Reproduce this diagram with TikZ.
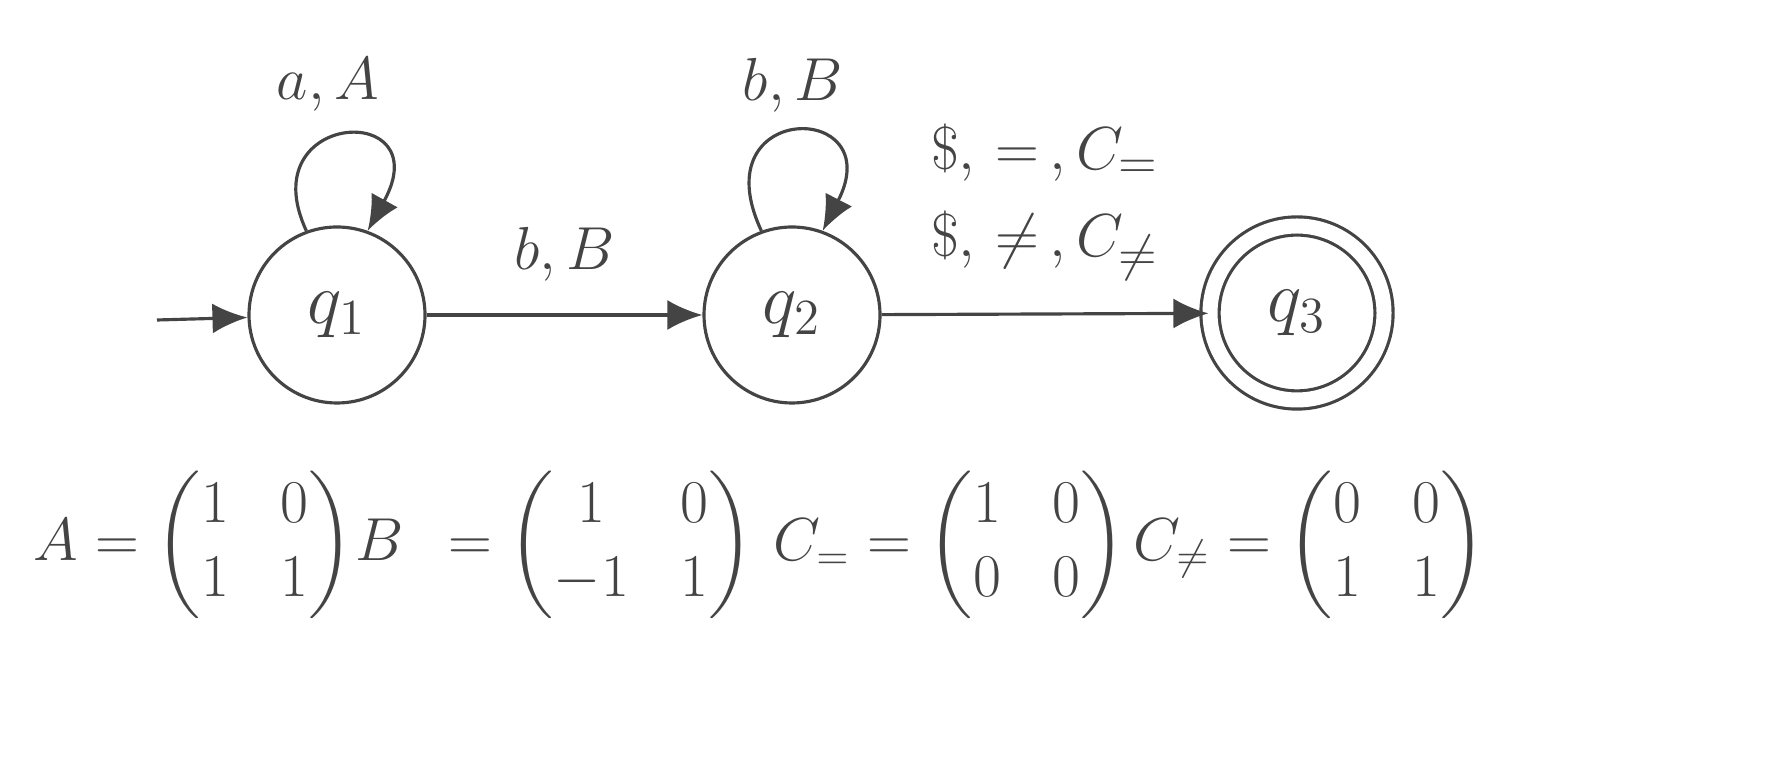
\documentclass[tikz,border=0pt]{standalone}
\usepackage{amsmath,amssymb}
\usetikzlibrary{arrows.meta,positioning,automata}
\definecolor{ink}{HTML}{444444}
\tikzset{st/.style={circle,draw=ink,line width=0.9pt,minimum size=17.6mm,inner sep=0pt,text=ink},
	trans/.style={-{Latex[length=3.5mm,width=3mm]},line width=0.9pt,draw=ink,text=ink},
	lbl/.style={text=ink,font=\fontsize{19}{22}\selectfont},
	mat/.style={text=ink,font=\fontsize{17.5}{21}\selectfont}}
\begin{document}
\begin{tikzpicture}[x=1cm,y=-1cm]
	\useasboundingbox (0,0) rectangle (17.76,7.72);
	\node[st,font=\fontsize{21}{24}\selectfont] (q1) at (3.37,3.15) {$q_1$};
	\node[st,font=\fontsize{21}{24}\selectfont] (q2) at (7.92,3.15) {$q_2$};
	\node[st,font=\fontsize{21}{24}\selectfont,minimum size=17.4mm,double=white,double distance=1.5mm] (q3) at (12.97,3.13) {$q_3$};
	\coordinate (start) at (1.57,3.2);
	\draw[trans] (start) -- (q1);
	\draw[trans] (q1) -- node[lbl,above=2mm] {$b, B$} (q2);
	\draw[trans] (q2) -- node[lbl,above=2mm,align=center] {$\$,\,=\,,C_=$\\[1mm]$\$,\,\neq\,,C_{\neq}$} (q3);
	\draw[trans] (q1.110) .. controls (2.5,1.1) and (4.4,1.0) .. (q1.70);
	\draw[trans] (q2.110) .. controls (7.0,1.0) and (8.9,1.0) .. (q2.70);
	\node[lbl] (l1) at (3.28,0.85) {$a, A$};
	\node[lbl] (l2) at (7.93,0.85) {$b, B$};
	\node[mat] (mA) at (1.94,5.45) {$A=\begin{pmatrix}1&\;0\\1&\;1\end{pmatrix}$};
	\node[mat] (mB) at (5.55,5.45) {$B\;\,=\begin{pmatrix}1&\;0\\-1&\;1\end{pmatrix}$};
	\node[mat] (mC) at (9.5,5.45) {$C_= =\begin{pmatrix}1&\;0\\0&\;0\end{pmatrix}$};
	\node[mat] (mD) at (13.1,5.45) {$C_{\neq}=\begin{pmatrix}0&\;0\\1&\;1\end{pmatrix}$};
\end{tikzpicture}
\end{document}
